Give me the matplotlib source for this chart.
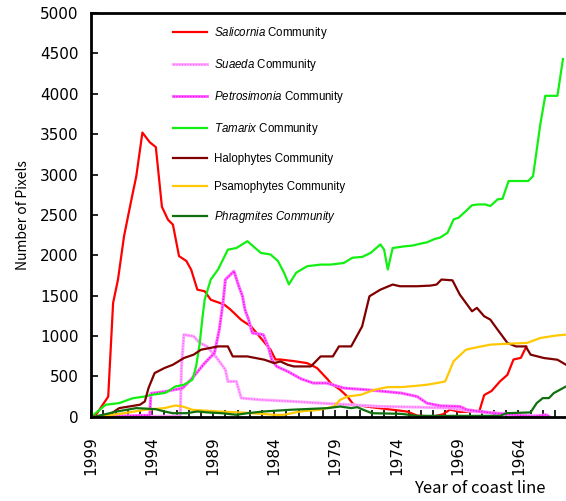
import matplotlib
matplotlib.use('Agg')
import matplotlib.pyplot as plt
from matplotlib.ticker import MultipleLocator, FixedLocator

plt.rcParams['mathtext.fontset'] = 'custom'
plt.rcParams['mathtext.rm'] = 'Liberation Sans'
plt.rcParams['mathtext.it'] = 'Liberation Sans:italic'

# --- data (year, pixel count) ---
salicornia_yr = [1999, 1998.6, 1997.6, 1997.2, 1996.8, 1996.3, 1995.7, 1995.3, 1994.8, 1994.2,
                 1993.7, 1993.2, 1992.7, 1992.3, 1991.8, 1991.2, 1990.8, 1990.3, 1989.7, 1989.2,
                 1988.1, 1987.6, 1986.7, 1985.9, 1985.1, 1984.3, 1983.9, 1983.5, 1982.4, 1981.3,
                 1980.5, 1979.6, 1979.4, 1978.6, 1978.0, 1977.5, 1976.1, 1974.7, 1973.1, 1972.3,
                 1971.0, 1970.2, 1969.6, 1968.8, 1967.2, 1966.8, 1966.2, 1965.5, 1964.9, 1964.4,
                 1963.8, 1963.35]
salicornia = [0, 25, 250, 1410, 1700, 2240, 2690, 2980, 3520, 3400,
              3340, 2600, 2440, 2380, 1990, 1930, 1820, 1575, 1555, 1450,
              1390, 1330, 1200, 1120, 975, 830, 710, 710, 690, 665,
              605, 460, 420, 335, 250, 150, 120, 95, 65, 15,
              5, 30, 90, 60, 70, 270, 320, 440, 520, 710,
              730, 870]

suaeda_yr = [1999, 1991.7, 1991.6, 1991.4, 1990.6, 1990.1, 1989.5, 1988.7, 1988.0, 1987.8,
             1987.1, 1986.7, 1985.1, 1982.4, 1980.3, 1977.8, 1975.1, 1972.3, 1969.6, 1967.7,
             1965.5, 1963.4, 1962.3]
suaeda = [0, 10, 620, 1018, 997, 915, 872, 728, 583, 438,
          438, 232, 211, 190, 170, 150, 128, 120, 108, 66,
          45, 25, 5]

petrosimonia_yr = [1999, 1994.2, 1994.1, 1992.9, 1991.5, 1991.1, 1990.6, 1989.7, 1988.9, 1988.5,
                   1988.2, 1988.0, 1987.3, 1986.9, 1986.6, 1986.4, 1986.1, 1985.8, 1984.9, 1984.5,
                   1984.2, 1983.8, 1982.9, 1981.8, 1980.8, 1979.7, 1978.3, 1976.4, 1973.6, 1972.3,
                   1971.5, 1970.4, 1968.8, 1968.2, 1967.1, 1966.0, 1964.4, 1962.8, 1961.7, 1961.5]
petrosimonia = [0, 20, 290, 314, 356, 418, 500, 665, 790, 1080,
                1411, 1700, 1803, 1617, 1493, 1328, 1204, 1038, 1018, 872,
                707, 624, 562, 470, 418, 418, 356, 335, 294, 252,
                170, 136, 128, 87, 66, 45, 25, 5, 25, 5]

tamarix_yr = [1999, 1998.6, 1997.8, 1996.7, 1995.6, 1994.7, 1994.0, 1992.9, 1992.1, 1991.4,
              1990.7, 1990.4, 1990.1, 1989.9, 1989.7, 1989.2, 1988.6, 1987.8, 1987.1, 1986.2,
              1985.1, 1984.3, 1983.7, 1983.2, 1982.8, 1982.2, 1981.3, 1980.2, 1979.4, 1978.3,
              1977.6, 1976.8, 1976.1, 1975.3, 1975.0, 1974.7, 1974.3, 1973.4, 1972.7, 1972.0,
              1971.5, 1970.9, 1970.4, 1969.8, 1969.3, 1968.9, 1968.3, 1967.8, 1967.3, 1966.7,
              1966.3, 1965.7, 1965.3, 1964.8, 1963.2, 1962.8, 1962.2, 1961.8, 1960.8, 1960.35]
tamarix = [0, 50, 150, 170, 230, 250, 273, 298, 376, 397,
           460, 624, 915, 1200, 1450, 1700, 1825, 2070, 2090, 2175,
           2030, 2010, 1930, 1785, 1640, 1785, 1865, 1885, 1885, 1905,
           1970, 1980, 2030, 2135, 2070, 1825, 2090, 2110, 2120, 2145,
           2160, 2200, 2220, 2280, 2445, 2465, 2548, 2620, 2630, 2630,
           2610, 2693, 2700, 2920, 2920, 2980, 3625, 3975, 3975, 4430]

halophytes_yr = [1999, 1997.5, 1996.7, 1995.0, 1994.6, 1994.3, 1993.8, 1993.0, 1992.3, 1991.4,
                 1990.6, 1990.0, 1988.6, 1987.8, 1987.4, 1986.2, 1984.8, 1984.0, 1983.5, 1982.9,
                 1982.4, 1981.0, 1980.2, 1979.2, 1978.7, 1977.7, 1976.8, 1976.2, 1975.3, 1974.3,
                 1973.7, 1972.3, 1971.2, 1970.7, 1970.3, 1969.4, 1968.8, 1967.8, 1967.4, 1966.8,
                 1966.3, 1965.9, 1964.9, 1964.2, 1963.4, 1963.0, 1961.9, 1960.8, 1960.1]
halophytes = [0, 25, 108, 150, 190, 356, 542, 604, 645, 728,
              770, 831, 872, 872, 748, 748, 707, 665, 686, 645,
              624, 624, 748, 748, 872, 872, 1120, 1493, 1575, 1638,
              1617, 1617, 1625, 1638, 1700, 1690, 1514, 1307, 1349, 1245,
              1204, 1120, 915, 872, 872, 770, 728, 707, 645]

psamophytes_yr = [1999, 1997.5, 1996.3, 1994.6, 1993.0, 1992.1, 1991.5, 1990.7, 1988.5, 1986.3,
                  1984.0, 1983.2, 1981.9, 1980.3, 1979.1, 1978.6, 1978.0, 1976.9, 1975.8, 1974.7,
                  1973.6, 1972.3, 1971.5, 1970.7, 1970.0, 1969.3, 1968.3, 1967.7, 1966.3, 1964.9,
                  1963.3, 1962.2, 1961.0, 1960.1]
psamophytes = [0, 20, 45, 87, 108, 140, 128, 87, 66, 50,
               25, 25, 66, 87, 128, 211, 252, 273, 335, 368,
               368, 385, 397, 418, 438, 690, 831, 852, 894, 905,
               915, 976, 1005, 1018]

phragmites_yr = [1999, 1998.6, 1996.9, 1995.3, 1993.7, 1993.0, 1992.3, 1991.2, 1990.3, 1989.5,
                 1988.3, 1987.1, 1986.2, 1984.9, 1982.7, 1979.6, 1978.6, 1977.7, 1977.2, 1976.7,
                 1976.0, 1973.6, 1972.3, 1965.5, 1965.0, 1963.0, 1962.5, 1962.0, 1961.5, 1961.1,
                 1960.1]
phragmites = [0, 5, 66, 108, 95, 66, 45, 45, 66, 55,
              45, 25, 45, 66, 87, 108, 128, 108, 120, 87,
              45, 37, 12, 12, 45, 55, 170, 232, 232, 294,
              376]

year_ticks = [1999, 1994, 1989, 1984, 1979, 1974, 1969, 1964]

fig = plt.figure(figsize=(5.66, 5.01), dpi=100)
ax = fig.add_axes([0.161, 0.168, 0.839, 0.806])

lw = 1.6
h_sal, = ax.plot(salicornia_yr, salicornia, color='#ff0000', lw=lw)
h_sua, = ax.plot(suaeda_yr, suaeda, color='#ffb0ff', lw=2.2)
h_sua2, = ax.plot(suaeda_yr, suaeda, color='#ff66ff', lw=1.0, ls=(0, (1, 1)))
h_pet, = ax.plot(petrosimonia_yr, petrosimonia, color='#ff70ff', lw=2.2)
h_pet2, = ax.plot(petrosimonia_yr, petrosimonia, color='#ff00ff', lw=1.0, ls=(0, (1, 1)))
h_tam, = ax.plot(tamarix_yr, tamarix, color='#11f011', lw=lw)
h_hal, = ax.plot(halophytes_yr, halophytes, color='#800000', lw=lw)
h_psa, = ax.plot(psamophytes_yr, psamophytes, color='#ffc800', lw=lw)
h_phr, = ax.plot(phragmites_yr, phragmites, color='#107010', lw=lw)

ax.set_xlim(1999, 1960.1)
ax.set_ylim(0, 5000)

ax.xaxis.set_major_locator(FixedLocator(year_ticks))
ax.xaxis.set_minor_locator(MultipleLocator(1))
ax.yaxis.set_major_locator(MultipleLocator(500))
ax.tick_params(axis='both', which='both', direction='in', length=5, width=1.2, color='black')
ax.tick_params(axis='x', which='major', pad=14, labelrotation=90)
ax.tick_params(axis='y', pad=9)
for lab in ax.get_xticklabels() + ax.get_yticklabels():
    lab.set_fontsize(11)
    lab.set_fontfamily('DejaVu Sans')

for side in ('left', 'bottom', 'top'):
    ax.spines[side].set_linewidth(2)
ax.spines['right'].set_visible(False)

ax.set_ylabel('Number of Pixels', fontsize=10, family=['Noto Sans CJK JP', 'DejaVu Sans'],
              labelpad=7)
fig.text(0.963, 0.024, 'Year of coast line', fontsize=12, ha='right', va='center',
         family=['Noto Sans CJK JP', 'DejaVu Sans'])

handles = [h_sal, (h_sua, h_sua2), (h_pet, h_pet2), h_tam, h_hal, h_psa, h_phr]
labels = [r'$\mathit{Salicornia}$ Community',
          r'$\mathit{Suaeda}$ Community',
          r'$\mathit{Petrosimonia}$ Community',
          r'$\mathit{Tamarix}$ Community',
          'Halophytes Community',
          'Psamophytes Community',
          r'$\mathit{Phragmites\ Community}$']
ax.legend(handles, labels, loc='upper left', bbox_to_anchor=(0.15, 0.995), frameon=False,
          prop={'family': 'Liberation Sans', 'size': 8.3}, handlelength=3.0,
          handletextpad=0.6, labelspacing=1.38)

fig.savefig('out.png', dpi=100)
